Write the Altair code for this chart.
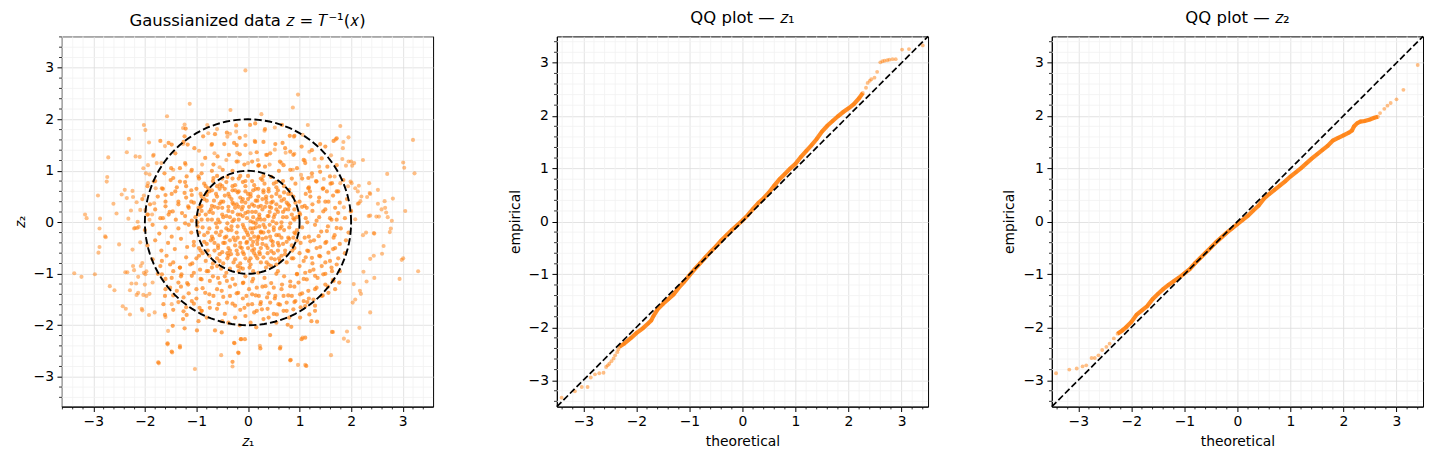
import altair as alt
import pandas as pd

FONT = "DejaVu Sans"
ORANGE = "#ff7f0e"
W, H = 372, 371

# ---------------- scatter data (z1, z2) ----------------
pts_outer = [(0.97,2.48),(-1.13,2.30),(0.87,2.23),(-0.34,2.18),(-1.57,2.06),(0.26,2.10),(-2.02,1.89),(-1.99,1.79),(-1.26,1.83),(-1.23,1.90),(-0.79,1.89),(-0.77,1.73),(-0.60,1.81),(-0.35,1.72),(-0.23,1.76),(-0.05,1.68),(0.13,1.58),(0.32,1.78),(0.52,1.84),(0.89,1.66),(1.16,1.89),(1.06,1.70),(1.19,1.37),(1.79,1.87),(1.70,1.61),(1.95,1.65),(1.85,1.56),(-2.31,1.62),(-1.92,1.55),(-1.61,1.48),(-1.26,1.52),(-0.95,1.39),(-0.71,1.50),(-0.65,1.34),(-0.40,1.66),(-0.21,1.35),(0.05,1.34),(0.35,1.31),(0.52,1.41),(0.73,1.35),(0.90,1.33),(1.10,1.20),(1.29,1.23),(1.38,1.08),(1.61,1.30),(1.84,1.44),(2.00,1.18),(2.06,1.15),(2.23,1.21),(2.70,0.94),(-2.71,1.26),(-2.35,1.36),(-2.18,1.28),(-1.84,1.29),(-2.03,1.05),(-1.68,1.15),(-1.45,1.02),(-1.21,1.12),(-1.10,0.99),(-0.89,1.12),(-0.55,1.07),(-0.42,1.21),(-0.19,1.18),(0.00,1.15),(0.19,1.21),(0.42,1.12),(0.65,1.15),(0.87,1.02),(1.03,0.92),(1.24,0.89),(1.47,0.84),(1.68,0.89),(1.79,0.76),(1.94,0.70),(2.13,0.60),(2.35,0.76),(2.52,0.63),(2.15,0.37),(2.31,0.49),(2.37,0.13),(2.66,0.28),(2.71,0.10),(2.81,0.46),(2.45,-0.22),(2.63,-0.46),(2.60,-0.61),(-2.73,0.88),(-2.74,0.79),(-2.45,0.54),(-2.39,0.63),(-2.61,0.36),(-2.77,-0.27),(-2.50,-0.43),(-2.23,0.49),(-2.16,0.39),(-2.19,-0.11),(-2.34,-0.97),(-2.68,-1.24),(-2.59,-1.32),(-2.37,-1.68),(-2.43,-1.63),(-2.29,-1.79),(-2.13,-1.37),(-2.06,-1.68),(-1.81,-1.75),(-1.60,-1.84),(-1.48,-1.59),(-1.55,-2.11),(-1.32,-2.40),(-1.47,-2.53),(-1.56,-2.37),(-1.73,-2.74),(-1.03,-2.85),(-0.52,-2.58),(-0.30,-2.80),(-0.26,-2.35),(-0.13,-2.27),(-0.18,-2.54),(0.23,-2.40),(0.63,-2.42),(0.83,-2.67),(0.97,-2.77),(1.11,-2.77),(1.06,-2.24),(1.61,-2.58),(1.65,-2.13),(1.92,-2.12),(1.86,-2.26),(1.94,-2.31),(2.16,-2.05),(2.37,-1.75),(2.45,-1.08)]

pts_far = [(-0.05,2.95),(-3.16,0.15),(-3.13,0.08),(-2.87,0.07),(-2.88,-0.12),(-2.88,-0.48),(-2.90,-0.59),(-2.91,0.52),(-3.37,-0.99),(-3.23,-1.06),(-2.97,-1.01),(2.94,-1.10),(3.30,-0.95),(3.01,-0.70),(2.98,-0.73),(3.05,0.22),(3.01,1.16),(3.03,1.06),(3.23,0.95),(3.20,1.60),(2.79,0.03),(2.77,-0.12),(2.75,-0.19),(2.36,0.57),(2.54,0.11),(2.59,0.25),(-2.55,0.17),(-2.76,-0.29)]

pts_right = [(2.44,-0.21),(2.29,-0.20),(2.23,-0.25),(2.44,-0.65),(2.37,-0.71),(2.30,-1.15),(2.24,-0.96),(2.17,-1.33),(2.19,-1.39),(2.03,-1.56),(2.08,-1.50),(2.05,-1.20),(1.83,1.23),(1.95,1.18),(2.02,1.10),(1.90,1.10),(2.15,0.71),(2.08,0.66),(1.99,0.79),(2.01,0.76),(2.37,0.55),(2.20,0.50),(2.18,0.41),(2.13,0.36),(2.52,0.36),(2.65,0.41),(2.68,0.19),(2.34,0.12),(2.49,0.11),(1.86,0.29),(2.08,0.06),(1.99,0.21)]

pts_left = [(-2.38,-0.97),(-2.24,-0.53),(-2.21,-0.12),(-2.15,-0.11),(-2.12,-0.09),(-2.09,-0.39),(-2.05,-0.79),(-2.23,-0.85),(-2.21,-0.93),(-2.08,-0.85),(-2.13,-1.06),(-2.26,-1.19),(-2.17,-1.19),(-2.00,-1.21),(-2.29,-1.32),(-2.16,-1.41),(-2.03,-1.41),(-1.97,-1.43),(-1.91,-1.39),(-2.05,-1.71),(-1.92,-1.80),(-1.99,-1.01),(-1.97,-0.95),(-2.02,-0.98),(-1.85,-1.17),(-2.10,1.27),(-1.83,1.31),(-1.94,1.11),(-1.77,1.15),(-1.98,0.95),(-1.91,0.93),(-2.35,0.47),(-2.24,0.61),(-2.27,0.23),(-2.02,0.52),(-1.99,0.24),(-2.09,0.24),(-2.32,0.07),(-2.14,0.01),(-1.94,0.15),(-1.86,0.15),(-1.91,0.05),(-1.82,0.37),(-1.79,0.66),(-1.83,0.79),(-1.94,0.76)]

pts_upper = [(-1.21,1.82),(-0.64,1.71),(-0.87,1.67),(-0.41,1.74),(-0.23,1.88),(-0.16,1.64),(-1.23,1.67),(-1.25,1.56),(-1.17,1.51),(-1.48,1.51),(-1.54,1.54),(-1.70,1.58),(-1.41,1.34),(-1.04,1.44),(-0.70,1.52),(-0.46,1.52),(-0.27,1.54),(-0.22,1.50),(-0.05,1.50),(-0.37,1.31),(-0.16,1.32),(-0.59,1.28),(-0.83,1.25),(-1.22,1.15),(-1.32,1.05),(-1.49,1.05),(-1.62,0.95),(-1.09,1.02),(-0.67,1.12),(-0.49,1.02),(-0.22,1.18),(-0.07,1.12),(-0.96,0.89),(-0.90,0.95),(-1.45,0.86),(-1.32,0.79),(-1.19,0.89),(-0.67,0.86),(-0.54,0.73),(-0.77,0.66),(-0.80,0.53),(-1.67,0.66),(-1.60,0.53),(-1.41,0.60),(-1.23,0.57),(-1.09,0.53),(-1.35,0.40),(-1.60,0.31),(-1.16,0.31),(-1.54,0.15),(-1.46,0.21),(-1.22,0.12),(-0.96,0.28),(-1.09,0.03),(-1.70,0.08),
(0.04,1.89),(0.14,1.92),(0.33,1.81),(0.66,1.89),(0.81,1.68),(0.90,1.68),(0.14,1.56),(0.30,1.56),(0.53,1.52),(0.67,1.54),(0.72,1.44),(1.04,1.47),(1.24,1.40),(1.72,1.63),(1.66,1.58),(1.40,1.52),(1.50,1.47),(0.17,1.36),(0.37,1.31),(0.43,1.34),(0.82,1.37),(0.88,1.31),(1.08,1.21),(1.11,1.15),(1.43,1.24),(1.54,1.08),(1.72,1.11),(0.62,1.18),(0.69,1.11),(0.33,1.08),(0.21,1.11),(0.08,1.18),(0.82,1.02),(0.95,1.05),(1.24,0.95),(1.40,0.98),(1.59,0.89),(1.17,0.86),(1.33,0.79),(1.63,0.76),(1.75,0.60),(1.46,0.66),(1.53,0.60),(1.17,0.66),(1.21,0.50),(1.37,0.40),(1.56,0.40),(1.69,0.28),(1.14,0.28),(1.46,0.21),(1.59,0.08),(1.72,0.05),(1.33,0.03),(1.01,0.15)]

pts_lower = [(-1.61,-1.43),(-1.64,-1.59),(-1.45,-1.70),(-1.25,-1.73),(-1.61,-1.80),(-1.46,-2.01),(-1.23,-2.06),(-0.96,-1.92),(-0.99,-2.10),(-0.64,-2.10),(-0.51,-2.14),(-0.38,-1.95),(-0.16,-2.00),(-0.27,-2.34),(-0.14,-2.27),(-0.06,-2.27),(-0.19,-2.53),(-0.30,-2.71),(-1.56,-2.35),(-1.48,-2.51),(-1.32,-2.43),(-1.74,-2.72),(-1.26,-1.88),(-1.19,-1.80),(-0.90,-1.72),(-0.74,-1.66),(-0.57,-1.59),(-0.41,-1.56),(-0.25,-1.62),(-0.07,-1.66),(-0.94,-1.66),(-1.09,-1.53),(-1.25,-1.46),(-1.38,-1.33),(-1.51,-1.27),(-1.35,-1.17),(-1.16,-1.21),(-1.00,-1.30),(-0.83,-1.37),(-0.67,-1.43),(-0.51,-1.33),(-0.35,-1.43),(-0.19,-1.37),(-0.03,-1.43),(-1.67,-1.01),(-1.48,-1.08),(-1.29,-1.01),(-1.09,-1.04),(-0.90,-1.11),(-0.74,-1.14),(-0.58,-1.08),(-0.41,-1.14),(-0.25,-1.21),(-0.09,-1.17),(-1.67,-0.75),(-1.51,-0.82),(-1.32,-0.88),(-1.12,-0.82),(-0.93,-0.92),(-0.77,-0.95),
(0.16,-2.04),(0.43,-2.19),(0.77,-1.99),(0.84,-2.03),(1.04,-2.27),(1.11,-2.24),(0.24,-2.45),(0.62,-2.45),(0.82,-2.68),(1.13,-2.79),(1.63,-2.13),(1.11,-1.63),(1.23,-1.92),(1.34,-1.93),(1.30,-1.72),(1.19,-1.79),(1.01,-1.85),(0.88,-1.69),(0.69,-1.72),(0.56,-1.79),(0.40,-1.85),(0.17,-1.72),(0.27,-1.69),(0.08,-1.59),(0.24,-1.59),(0.43,-1.56),(0.59,-1.59),(0.75,-1.56),(0.92,-1.53),(1.08,-1.53),(1.27,-1.50),(1.43,-1.43),(1.56,-1.37),(1.69,-1.30),(1.77,-1.17),(1.66,-1.14),(1.50,-1.21),(1.33,-1.27),(1.17,-1.33),(1.01,-1.40),(0.85,-1.43),(0.69,-1.43),(0.53,-1.43),(0.37,-1.46),(0.21,-1.43),(0.08,-1.40),(0.17,-1.27),(0.34,-1.24),(0.50,-1.27),(0.66,-1.21),(0.82,-1.24),(0.98,-1.17),(1.14,-1.11),(1.30,-1.04),(1.46,-1.01),(1.63,-0.95),(1.72,-0.82),(1.59,-0.75),(1.43,-0.85),(1.27,-0.92),(1.11,-0.98),(0.95,-1.01),(1.08,-0.75),(1.24,-0.69),(1.40,-0.66),(1.56,-0.59),(1.69,-0.50),(1.33,-0.50),(1.50,-0.40),(1.66,-0.30),(1.53,-0.17),(1.37,-0.27),(1.21,-0.37),(1.17,-0.56),(1.72,-0.11)]

pts_rows = [(-1.95,0.7),(-1.8,0.8),(-1.65,0.65),(-1.5,0.82),(-1.38,0.68),(-1.22,0.78),(-1.1,0.62),(-0.95,0.85),(-0.82,0.7),(-0.68,0.8),(-0.55,0.65),(-0.42,0.78),(-0.3,0.62),(-0.18,0.85),(-0.05,0.7),(0.08,0.8),(0.2,0.65),(0.32,0.75),(0.45,0.88),(0.55,0.68),(0.68,0.8),(0.8,0.63),(0.92,0.75),(1.05,0.85),(1.18,0.68),(1.32,0.8),(1.45,0.65),(1.6,0.75),(1.72,0.6),(1.85,0.82),(-0.6,0.9),(0.1,0.62),(-0.25,0.72),(0.4,0.65),(0.85,0.85),(-1.0,0.65),
(-2.05,0.45),(-1.9,0.35),(-1.75,0.5),(-1.6,0.4),(-1.48,0.55),(-1.35,0.35),(-1.2,0.48),(-1.05,0.38),(-0.92,0.55),(-0.8,0.42),(-0.7,0.32),(-0.6,0.5),(-0.48,0.4),(-0.38,0.55),(-0.28,0.35),(-0.15,0.48),(-0.05,0.38),(0.05,0.55),(0.15,0.42),(0.25,0.32),(0.35,0.5),(0.45,0.38),(0.55,0.55),(0.65,0.42),(0.78,0.35),(0.88,0.5),(1.0,0.4),(1.12,0.55),(1.25,0.35),(1.38,0.48),(1.5,0.4),(1.65,0.52),(1.78,0.38),(1.92,0.45),(-0.55,0.36),(0.0,0.45),(0.3,0.58),(-0.2,0.58),(0.7,0.58),(-0.9,0.32),(1.1,0.32),
(-1.95,0.15),(-1.8,0.25),(-1.65,0.08),(-1.52,0.2),(-1.4,0.05),(-1.28,0.18),(-1.15,0.28),(-1.02,0.1),(-0.9,0.22),(-0.78,0.05),(-0.68,0.18),(-0.58,0.28),(-0.48,0.1),(-0.38,0.22),(-0.3,0.02),(-0.2,0.15),(-0.12,0.25),(-0.02,0.08),(0.08,0.2),(0.18,0.05),(0.28,0.25),(0.38,0.12),(0.48,0.02),(0.58,0.2),(0.68,0.1),(0.78,0.25),(0.9,0.05),(1.0,0.18),(1.12,0.08),(1.25,0.22),(1.38,0.1),(1.5,0.25),(1.62,0.05),(1.75,0.18),(1.88,0.08),(2.0,0.22),(-0.25,0.28),(0.1,0.0),(-0.55,0.0),(0.45,0.28),(0.65,0.0),(-0.1,0.12),(0.22,0.15),
(-2.0,-0.15),(-1.85,-0.05),(-1.72,-0.22),(-1.6,-0.1),(-1.48,-0.28),(-1.35,-0.12),(-1.22,-0.02),(-1.1,-0.2),(-0.98,-0.08),(-0.85,-0.25),(-0.75,-0.12),(-0.62,-0.02),(-0.52,-0.18),(-0.42,-0.28),(-0.32,-0.08),(-0.22,-0.2),(-0.1,-0.05),(0.0,-0.25),(0.1,-0.12),(0.2,-0.28),(0.3,-0.05),(0.4,-0.18),(0.5,-0.1),(0.6,-0.25),(0.7,-0.15),(0.82,-0.02),(0.92,-0.22),(1.05,-0.1),(1.18,-0.28),(1.3,-0.05),(1.42,-0.18),(1.55,-0.08),(1.68,-0.25),(1.8,-0.12),(1.95,-0.2),(-0.05,-0.15),(0.25,-0.18),(-0.38,-0.15),(0.55,-0.02),(0.15,-0.02),(-0.7,-0.28),
(-1.95,-0.45),(-1.8,-0.35),(-1.68,-0.55),(-1.55,-0.4),(-1.42,-0.52),(-1.3,-0.32),(-1.18,-0.48),(-1.05,-0.38),(-0.92,-0.55),(-0.8,-0.42),(-0.68,-0.32),(-0.58,-0.5),(-0.45,-0.4),(-0.35,-0.55),(-0.25,-0.35),(-0.15,-0.48),(-0.02,-0.38),(0.08,-0.55),(0.18,-0.42),(0.28,-0.32),(0.38,-0.5),(0.48,-0.38),(0.58,-0.55),(0.68,-0.42),(0.8,-0.32),(0.9,-0.5),(1.02,-0.4),(1.15,-0.55),(1.28,-0.35),(1.4,-0.48),(1.52,-0.38),(1.65,-0.52),(1.78,-0.42),(1.9,-0.35),(0.22,-0.58),(-0.1,-0.58),(0.45,-0.56),(-0.5,-0.58),(0.05,-0.32),
(-1.85,-0.72),(-1.7,-0.85),(-1.58,-0.65),(-1.45,-0.78),(-1.32,-0.88),(-1.2,-0.68),(-1.08,-0.8),(-0.95,-0.65),(-0.82,-0.75),(-0.7,-0.88),(-0.6,-0.7),(-0.48,-0.8),(-0.38,-0.65),(-0.28,-0.78),(-0.15,-0.88),(-0.05,-0.7),(0.05,-0.82),(0.15,-0.65),(0.25,-0.78),(0.35,-0.88),(0.45,-0.7),(0.55,-0.82),(0.65,-0.65),(0.75,-0.78),(0.88,-0.7),(1.0,-0.85),(1.12,-0.68),(1.25,-0.8),(1.38,-0.65),(1.5,-0.78),(1.62,-0.88),(1.75,-0.7),(1.88,-0.6),(-0.2,-0.62),(0.3,-0.68),(-0.55,-0.62),
(-1.75,-1.0),(-1.6,-1.1),(-1.45,-0.95),(-1.3,-1.05),(-1.18,-1.18),(-1.05,-0.98),(-0.92,-1.1),(-0.8,-0.95),(-0.68,-1.05),(-0.55,-1.18),(-0.42,-0.98),(-0.3,-1.1),(-0.18,-0.95),(-0.05,-1.05),(0.08,-1.15),(0.2,-0.98),(0.32,-1.08),(0.45,-1.18),(0.58,-0.95),(0.7,-1.05),(0.82,-1.15),(0.95,-1.0),(1.08,-1.1),(1.2,-0.95),(1.35,-1.08),(1.5,-1.0),(1.65,-1.12),(1.78,-0.95),(-0.1,-1.18),
(-1.6,-1.3),(-1.45,-1.42),(-1.3,-1.25),(-1.15,-1.38),(-1.0,-1.48),(-0.88,-1.28),(-0.75,-1.4),(-0.6,-1.3),(-0.48,-1.45),(-0.35,-1.25),(-0.22,-1.38),(-0.1,-1.48),(0.02,-1.3),(0.15,-1.42),(0.28,-1.25),(0.4,-1.38),(0.52,-1.48),(0.65,-1.3),(0.78,-1.42),(0.9,-1.25),(1.05,-1.38),(1.18,-1.48),(1.3,-1.3),(1.45,-1.42),(1.55,-1.25),
(-1.35,-1.55),(-1.2,-1.65),(-1.05,-1.58),(-0.9,-1.72),(-0.75,-1.55),(-0.6,-1.68),(-0.45,-1.78),(-0.3,-1.58),(-0.15,-1.7),(0.0,-1.6),(0.12,-1.75),(0.25,-1.55),(0.38,-1.68),(0.5,-1.78),(0.62,-1.6),(0.75,-1.72),(0.9,-1.55),(1.02,-1.65),(1.15,-1.55),(1.3,-1.62),
(-0.8,-1.85),(-0.5,-1.92),(-0.25,-1.85),(0.05,-1.95),(0.3,-1.88),(0.55,-1.95),(0.8,-1.85),(-0.05,-1.82)]

pts_core = [(-0.85,0.45),(-0.75,0.2),(-0.62,0.55),(-0.45,0.65),(-0.32,0.45),(-0.18,0.3),(-0.05,0.6),(0.12,0.32),(0.28,0.45),(0.42,0.2),(0.55,0.35),(0.72,0.25),(0.85,0.15),(-0.88,-0.1),(-0.72,-0.35),(-0.55,-0.25),(-0.4,-0.02),(-0.25,-0.45),(-0.08,-0.3),(0.08,-0.45),(0.22,-0.08),(0.35,-0.3),(0.48,-0.45),(0.62,-0.12),(0.75,-0.38),(0.88,-0.3),(-0.65,-0.55),(-0.4,-0.7),(-0.15,-0.8),(0.12,-0.6),(0.4,-0.82),(0.6,-0.7),(-0.3,0.85),(0.0,0.9),(0.25,0.85),(0.55,0.78),(-0.75,0.6),(0.78,0.55),(-0.95,0.15),(0.95,-0.15),(-0.5,0.15),(0.5,0.1),(0.0,-0.5),(0.02,0.3),(-0.35,-0.35),(0.32,0.05),
(-0.92,0.3),(-0.85,-0.38),(-0.8,0.58),(-0.78,-0.55),(-0.7,0.05),(-0.66,0.42),(-0.62,-0.2),(-0.6,0.7),(-0.55,-0.75),(-0.5,0.28),(-0.48,-0.4),(-0.45,0.52),(-0.42,-0.12),(-0.4,0.88),(-0.35,0.1),(-0.33,-0.62),(-0.3,0.38),(-0.28,-0.3),(-0.25,0.62),(-0.2,-0.85),(-0.18,0.05),(-0.15,-0.4),(-0.12,0.4),(-0.1,0.78),(-0.08,-0.62),(-0.05,0.18),(-0.02,-0.2),(0.0,0.55),(0.03,-0.88),(0.05,0.02),(0.08,0.35),(0.1,-0.38),(0.12,0.72),(0.15,-0.1),(0.18,-0.7),(0.2,0.5),(0.22,0.1),(0.25,-0.5),(0.28,0.82),(0.3,-0.2),(0.33,0.3),(0.36,-0.78),(0.4,0.6),(0.42,-0.05),(0.45,-0.35),(0.48,0.4),(0.5,-0.6),(0.52,0.15),(0.55,-0.25),(0.58,0.62),(0.6,-0.45),(0.62,0.3),(0.65,-0.08),(0.7,0.45),(0.72,-0.55),(0.75,0.1),(0.78,-0.3),(0.8,0.32),(0.85,-0.45),(0.88,0.08),(0.9,-0.2),(0.92,0.38),(-0.95,-0.2),(-0.9,0.05),(-0.88,-0.6),(-0.72,0.25),(-0.68,-0.8),(-0.58,0.05),(-0.52,-0.9),(-0.38,-0.5),(-0.22,-0.55),(-0.1,-0.9),(0.05,-0.7),(0.2,-0.3),(0.35,0.45),(0.5,0.75),(-0.15,0.9),(-0.65,-0.4),(-0.3,0.2),(0.15,0.2),(0.62,-0.75),(0.95,0.1)]

pts_core2 = [(-0.9,0.5),(-0.82,0.15),(-0.78,-0.2),(-0.7,0.62),(-0.65,0.3),(-0.6,-0.1),(-0.58,-0.45),(-0.52,0.4),(-0.5,0.7),(-0.45,-0.3),(-0.42,0.12),(-0.4,-0.6),(-0.36,0.5),(-0.32,-0.15),(-0.3,0.7),(-0.27,0.05),(-0.25,-0.72),(-0.22,0.35),(-0.2,-0.3),(-0.18,0.6),(-0.15,0.15),(-0.12,-0.5),(-0.1,0.45),(-0.08,-0.1),(-0.05,0.8),(-0.03,-0.4),(0.0,0.2),(0.02,-0.75),(0.05,0.5),(0.08,-0.2),(0.1,0.1),(0.12,-0.52),(0.15,0.65),(0.18,-0.35),(0.2,0.3),(0.23,-0.62),(0.25,0.05),(0.28,-0.42),(0.3,0.62),(0.33,-0.1),(0.36,0.38),(0.38,-0.6),(0.4,0.12),(0.43,-0.28),(0.46,0.5),(0.5,-0.15),(0.52,-0.72),(0.55,0.25),(0.58,-0.4),(0.62,0.5),(0.65,-0.3),(0.68,0.2),(0.72,-0.62),(0.75,0.38),(0.8,-0.1),(0.83,0.55),(0.86,-0.55),(0.9,0.25),(0.95,-0.35),(-0.98,0.0),(-0.95,-0.5),(-0.85,0.75),(-0.6,-0.85),(-0.35,-0.9),(0.1,-0.95),(0.45,-0.85),(0.7,0.7),(0.3,0.9),(-0.5,0.85),(-0.75,-0.65),(0.85,-0.7),(1.05,0.3),(1.1,-0.3),(-1.1,0.4),(-1.05,-0.45),(1.15,0.0),(-1.15,-0.05),(1.2,0.6),(-1.2,0.7),(1.0,-0.6),(-1.0,-0.7),(0.2,1.1),(-0.3,1.0),(0.6,1.0),(-0.7,1.0),(0.1,-1.1),(-0.45,-1.05),(0.55,-1.0),(0.25,-0.2),(0.12,-0.28),(0.35,-0.45),(0.05,-0.12),(-0.1,0.3),(-0.2,-0.08),(0.18,0.42),(-0.38,0.3),(0.42,0.3)]

# ---------------- QQ data: (theoretical, empirical) ----------------
qq1_tail = [(-3.41,-3.33),(-3.16,-3.21),(-3.03,-3.13),(-2.92,-3.13),(-2.86,-2.95),(-2.78,-2.89),(-2.70,-2.87),(-2.62,-2.86),(-2.57,-2.75),(-2.54,-2.72),(-2.51,-2.69),(-2.47,-2.64),(-2.43,-2.59),(-2.40,-2.53),(-2.36,-2.47),(-2.34,-2.42),
            (2.33,2.53),(2.36,2.62),(2.40,2.66),(2.43,2.69),(2.49,2.72),(2.54,2.83),(2.60,3.01),(2.64,3.03),(2.68,3.04),(2.73,3.05),(2.77,3.06),(2.83,3.07),(2.89,3.07),(3.01,3.25),(3.14,3.26),(3.40,3.33)]
qq1_core = [(-2.32,-2.37),(-2.23,-2.31),(-2.1,-2.2),(-2.0,-2.11),(-1.88,-2.02),(-1.78,-1.93),(-1.72,-1.87),(-1.68,-1.79),(-1.6,-1.66),(-1.5,-1.56),(-1.4,-1.47),(-1.3,-1.38),(-1.2,-1.25),(-1.1,-1.14),(-1.0,-1.02),(-0.9,-0.9),(-0.8,-0.79),(-0.7,-0.68),(-0.6,-0.57),(-0.5,-0.47),(-0.4,-0.36),(-0.3,-0.26),(-0.2,-0.16),(-0.1,-0.07),(0.0,0.02),(0.1,0.12),(0.2,0.24),(0.3,0.35),(0.4,0.44),(0.5,0.55),(0.6,0.68),(0.7,0.8),(0.8,0.9),(0.9,1.0),(1.0,1.09),(1.1,1.22),(1.2,1.33),(1.3,1.44),(1.4,1.56),(1.5,1.7),(1.6,1.81),(1.7,1.9),(1.8,1.99),(1.9,2.07),(2.0,2.14),(2.1,2.22),(2.2,2.33),(2.27,2.43)]

qq2_tail = [(-3.42,-2.87),(-3.17,-2.80),(-3.03,-2.78),(-2.92,-2.74),(-2.85,-2.72),(-2.75,-2.58),(-2.69,-2.58),(-2.62,-2.53),(-2.55,-2.43),(-2.47,-2.37),(-2.41,-2.31),(-2.33,-2.21),
            (2.69,2.05),(2.77,2.13),(2.83,2.19),(2.89,2.24),(3.00,2.31),(3.13,2.49),(3.40,2.96)]
qq2_core = [(-2.26,-2.12),(-2.17,-2.06),(-2.1,-2.0),(-2.0,-1.9),(-1.9,-1.76),(-1.8,-1.68),(-1.7,-1.6),(-1.6,-1.47),(-1.5,-1.37),(-1.4,-1.28),(-1.3,-1.2),(-1.2,-1.13),(-1.1,-1.06),(-1.0,-0.98),(-0.9,-0.9),(-0.8,-0.79),(-0.7,-0.69),(-0.6,-0.59),(-0.5,-0.49),(-0.4,-0.39),(-0.3,-0.3),(-0.2,-0.21),(-0.1,-0.13),(0.0,-0.05),(0.1,0.03),(0.2,0.11),(0.3,0.21),(0.4,0.3),(0.5,0.43),(0.6,0.52),(0.7,0.6),(0.8,0.68),(0.9,0.76),(1.0,0.85),(1.1,0.93),(1.2,1.01),(1.3,1.1),(1.4,1.19),(1.5,1.27),(1.6,1.35),(1.7,1.43),(1.8,1.53),(1.9,1.58),(2.0,1.63),(2.1,1.68),(2.16,1.72),(2.2,1.8),(2.26,1.86),(2.32,1.89),(2.4,1.9),(2.5,1.93),(2.58,1.96),(2.65,1.98)]

radii = [1, 2]
major_ticks = [-3, -2, -1, 0, 1, 2, 3]

# ---------------- helpers ----------------
def mk_axis(title):
    return alt.Axis(title=title, values=major_ticks, format="d", grid=True, gridColor="#dcdcdc", gridWidth=0.8,
                    ticks=True, tickSize=4.9, tickWidth=1, tickColor="black",
                    domain=True, domainColor="black", domainWidth=1,
                    labelFont=FONT, labelFontSize=13.9, labelColor="black", labelPadding=3.5,
                    titleFont=FONT, titleFontSize=13.9, titleFontWeight="normal", titleColor="black", titlePadding=6)

def enc_x(field, dom, ttl):
    return alt.X(field, type="quantitative", scale=alt.Scale(domain=dom, nice=False, zero=False), axis=mk_axis(ttl))

def enc_y(field, dom, ttl):
    return alt.Y(field, type="quantitative", scale=alt.Scale(domain=dom, nice=False, zero=False), axis=mk_axis(ttl))

def minor_values(dom):
    return [round(k * 0.2, 1) for k in range(-20, 21) if k % 5 != 0 and dom[0] < k * 0.2 < dom[1]]

def decorations(dx, dy, xt, yt):
    mx = pd.DataFrame({"v": minor_values(dx)})
    my = pd.DataFrame({"v": minor_values(dy)})
    gx = alt.Chart(mx).mark_rule(color="#f1f1f1", strokeWidth=0.8).encode(x=enc_x("v", dx, xt))
    gy = alt.Chart(my).mark_rule(color="#f1f1f1", strokeWidth=0.8).encode(y=enc_y("v", dy, yt))
    tx = alt.Chart(mx).mark_rule(color="black", strokeWidth=0.8).encode(
        x=enc_x("v", dx, xt), y=alt.value(H), y2=alt.value(H + 2.8))
    ty = alt.Chart(my).mark_rule(color="black", strokeWidth=0.8).encode(
        y=enc_y("v", dy, yt), x=alt.value(0), x2=alt.value(-2.8))
    return [gx, gy, tx, ty]

def title(text):
    return alt.Title(text, font=FONT, fontSize=16.5, fontWeight="normal", color="black", offset=7, anchor="middle")

def pts_frame(pts):
    return pd.DataFrame({"z1": [p[0] for p in pts], "z2": [p[1] for p in pts]})

# ---------------- panel 1 ----------------
sparse_pts = pts_outer + pts_far + pts_right + pts_left
dense_pts = pts_upper + pts_lower + pts_rows + pts_core + pts_core2
DX1, DY1 = [-3.61, 3.59], [-3.58, 3.61]
XT1, YT1 = "𝑧₁", "𝑧₂"

circ_rows = []
for r in radii:
    for k, deg in enumerate(range(0, 361, 3)):
        circ_rows.append({"r": r, "k": k, "deg": deg})
df_circ = pd.DataFrame(circ_rows)

scatter_sparse = alt.Chart(pts_frame(sparse_pts)).mark_circle(size=17, color=ORANGE, opacity=0.5).encode(
    x=enc_x("z1", DX1, XT1), y=enc_y("z2", DY1, YT1))
scatter_dense = alt.Chart(pts_frame(dense_pts)).mark_circle(size=18, color=ORANGE, opacity=0.68).encode(
    x=enc_x("z1", DX1, XT1), y=enc_y("z2", DY1, YT1))
circles = alt.Chart(df_circ).transform_calculate(
    cx="datum.r * cos(datum.deg * PI / 180)", cy="datum.r * sin(datum.deg * PI / 180)"
).mark_line(color="black", strokeWidth=1.9, strokeDash=[7.4, 3.2]).encode(
    x=enc_x("cx", DX1, XT1), y=enc_y("cy", DY1, YT1), detail="r:N", order="k:Q")

p1 = alt.layer(*decorations(DX1, DY1, XT1, YT1), scatter_sparse, scatter_dense, circles).properties(
    width=W, height=H, title=title("Gaussianized data 𝑧 = 𝑇⁻¹(𝑥)"))

# ---------------- QQ panels ----------------
DQ = [-3.5, 3.5]
XQ, YQ = "theoretical", "empirical"
df_diag = pd.DataFrame({"d": DQ})

def qq_panel(core, tail, ttl):
    dfp = pd.DataFrame({"t": [p[0] for p in core + tail], "e": [p[1] for p in core + tail]})
    dfc = pd.DataFrame({"t": [p[0] for p in core], "e": [p[1] for p in core]})
    band = alt.Chart(dfc).mark_line(color=ORANGE, strokeWidth=4.2, opacity=0.9).encode(
        x=enc_x("t", DQ, XQ), y=enc_y("e", DQ, YQ), order="t:Q")
    pts = alt.Chart(dfp).mark_circle(size=15, color=ORANGE, opacity=0.5).encode(
        x=enc_x("t", DQ, XQ), y=enc_y("e", DQ, YQ))
    diag = alt.Chart(df_diag).mark_line(color="black", strokeWidth=1.7, strokeDash=[6.5, 2.8]).encode(
        x=enc_x("d", DQ, XQ), y=enc_y("d", DQ, YQ))
    return alt.layer(*decorations(DQ, DQ, XQ, YQ), pts, band, diag).properties(width=W, height=H, title=title(ttl))

p2 = qq_panel(qq1_core, qq1_tail, "QQ plot — 𝑧₁")
p3 = qq_panel(qq2_core, qq2_tail, "QQ plot — 𝑧₂")

chart = alt.hconcat(p1, p2, p3, spacing=124, bounds="flush").properties(
    padding={"left": 12, "top": 8, "right": 5, "bottom": 5}, background="white"
).configure_view(stroke="black", strokeWidth=1)

chart.save("out.html", embed_options={"renderer": "svg", "actions": False})
